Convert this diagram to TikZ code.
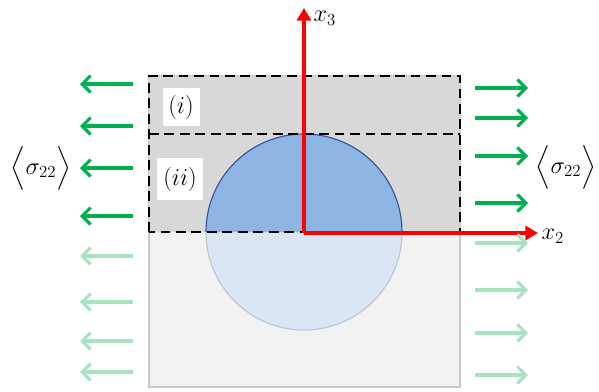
\documentclass[tikz,border=0pt]{standalone}
\usepackage{amsmath,amssymb}
\usepackage{tikz}
\usetikzlibrary{arrows.meta,positioning}
\definecolor{cellgray}{RGB}{216,216,216}
\definecolor{paleback}{RGB}{242,242,242}
\definecolor{edgegray}{RGB}{200,200,200}
\definecolor{incdark}{RGB}{141,180,226}
\definecolor{incedge}{RGB}{47,84,150}
\definecolor{inclight}{RGB}{219,230,244}
\definecolor{incpale}{RGB}{185,198,218}
\definecolor{loadgreen}{RGB}{0,176,80}
\definecolor{loadpale}{RGB}{168,226,192}
\tikzset{
  bigfont/.style  = {font=\LARGE},
  cellbnd/.style  = {draw=black, line width=1.6pt, dash pattern=on 7pt off 4pt},
  cellbox/.style  = {fill=white, inner sep=0pt, bigfont},
  axis/.style     = {draw=red, line width=2.4pt,
                     -{Triangle[length=9pt,width=10pt]}},
  load/.style     = {draw=loadgreen, line width=2.2pt,
                     -{Straight Barb[length=6pt,width=12pt,line width=2.2pt]}},
  loadp/.style    = {load, draw=loadpale},
  lbl/.style      = {bigfont, inner sep=1pt},
}
\begin{document}
\begin{tikzpicture}[x=0.025cm,y=0.025cm]
  \useasboundingbox (0,0) rectangle (599,391);
  % whole cell, lower half faded
  \draw[edgegray, line width=0.8pt, fill=paleback] (149,4) rectangle (460,315);
  \draw[incpale, line width=0.8pt, fill=inclight] (304,159) circle (98);
  % upper half: the part that is cut out
  \fill[cellgray] (149,159) rectangle (460,315);
  \draw[incedge, line width=0.8pt, fill=incdark] (206,159) arc (180:0:98);
  \draw[cellbnd] (149,159) rectangle (460,315);
  \draw[cellbnd] (149,257) -- (460,257);
  \node[cellbox, minimum width=37*0.025cm, minimum height=38*0.025cm] (ci) at (181,284) {$(i)$};
  \node[cellbox, minimum width=46*0.025cm, minimum height=42*0.025cm] (cii) at (180,212) {$(ii)$};
  % axes
  \coordinate (O) at (304,158);
  \coordinate (x3tip) at (304,383);
  \coordinate (x2tip) at (538,158);
  \draw[axis] (O) -- (x3tip);
  \draw[axis] (O) -- (x2tip);
  \node[lbl, anchor=west] (x3) at (312,373) {$x_3$};
  \node[lbl, anchor=west] (x2) at (540,155) {$x_2$};
  % tractions on the cut-out part
  \foreach \yl/\yr in {307/303, 265/273, 223/235, 175/188} {
    \draw[load] (133,\yl) -- (80,\yl);
    \draw[load] (475,\yr) -- (528,\yr);
  }
  \foreach \yl/\yr in {135/148, 89/101, 50/58, 19/16} {
    \draw[loadp] (133,\yl) -- (80,\yl);
    \draw[loadp] (475,\yr) -- (528,\yr);
  }
  \node[lbl] (sl) at (41,223) {$\Bigl\langle \sigma_{22} \Bigr\rangle$};
  \node[lbl] (sr) at (566,224) {$\Bigl\langle \sigma_{22} \Bigr\rangle$};
\end{tikzpicture}
\end{document}
